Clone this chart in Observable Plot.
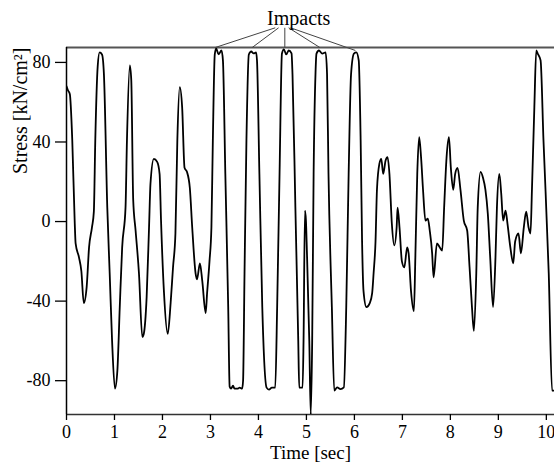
<!DOCTYPE html>
<html>
<head>
<meta charset="utf-8">
<script src="https://cdn.jsdelivr.net/npm/d3@7"></script>
<script src="https://cdn.jsdelivr.net/npm/@observablehq/plot@0.6"></script>
<style>
  html, body { margin: 0; padding: 0; background: #fff; }
  #chart { width: 554px; height: 462px; overflow: hidden; }
  #chart svg text { font-family: 'Liberation Serif', 'Times New Roman', serif; }
</style>
</head>
<body>
<div id="chart"></div>
<script>
// Time [sec]
const time = [
  0.00, 0.03, 0.07, 0.12, 0.17, 0.19, 0.26, 0.31, 0.36, 0.42, 0.47, 0.53, 0.57, 0.60, 0.65, 0.69, 0.74, 0.78, 0.85, 0.90,
  0.95, 1.01, 1.06, 1.11, 1.16, 1.23, 1.26, 1.32, 1.35, 1.39, 1.44, 1.51, 1.58, 1.61, 1.67, 1.72, 1.75, 1.82, 1.89, 1.94,
  1.97, 2.03, 2.11, 2.17, 2.22, 2.27, 2.31, 2.36, 2.41, 2.46, 2.51, 2.57, 2.62, 2.69, 2.72, 2.78, 2.83, 2.90, 2.93, 2.98,
  3.02, 3.05, 3.09, 3.12, 3.17, 3.23, 3.26, 3.31, 3.37, 3.40, 3.43, 3.47, 3.50, 3.56, 3.61, 3.66, 3.68, 3.71, 3.75, 3.80,
  3.85, 3.90, 3.95, 3.97, 4.02, 4.08, 4.17, 4.22, 4.28, 4.35, 4.39, 4.44, 4.49, 4.53, 4.58, 4.63, 4.69, 4.71, 4.77, 4.83,
  4.85, 4.92, 4.94, 4.97, 4.99, 5.01, 5.06, 5.09, 5.12, 5.15, 5.19, 5.21, 5.26, 5.33, 5.40, 5.43, 5.46, 5.53, 5.58, 5.64,
  5.71, 5.78, 5.83, 5.88, 5.93, 5.99, 6.04, 6.09, 6.13, 6.16, 6.19, 6.25, 6.32, 6.37, 6.40, 6.44, 6.47, 6.52, 6.56, 6.60,
  6.65, 6.69, 6.73, 6.78, 6.83, 6.88, 6.90, 6.94, 6.99, 7.04, 7.10, 7.13, 7.18, 7.24, 7.27, 7.31, 7.35, 7.39, 7.43, 7.48,
  7.53, 7.57, 7.62, 7.65, 7.72, 7.78, 7.83, 7.87, 7.92, 7.97, 8.01, 8.06, 8.10, 8.15, 8.21, 8.28, 8.35, 8.40, 8.45, 8.49,
  8.54, 8.57, 8.63, 8.68, 8.73, 8.78, 8.83, 8.89, 8.94, 8.97, 9.02, 9.06, 9.10, 9.15, 9.19, 9.25, 9.31, 9.35, 9.42, 9.47,
  9.53, 9.58, 9.63, 9.67, 9.70, 9.75, 9.79, 9.82, 9.88, 9.94, 10.05, 10.12, 10.17
];
// Stress [kN/cm²]
const stress = [
  68, 66, 64, 41, 0.5, -11, -18, -25, -41, -33, -13, -3, 5, 41, 78, 85, 84, 74, 7, -26,
  -60, -84, -75, -43, -13, 7, 41, 78.5, 71, 11, -4.5, -26, -58, -56.5, -38, -3, 19, 31.5, 30, 24,
  0.5, -35, -56.5, -41, -23, -6, 41, 67.6, 57.5, 27, 25, 17, -3, -26, -29, -21, -30, -46, -36, -20,
  -3, 41, 84, 87, 84, 86, 81, 24, -43, -83, -84, -82.5, -84, -84, -83.5, -84, -80, -26, 41, 84,
  85.5, 84.5, 85, 81, 24, -43, -83.5, -84.5, -83.5, -83.5, -43, 24, 84.5, 86.5, 84, 86, 84.5, 74, 7, -60,
  -83.5, -83.5, -60, 5.5, 0.5, -15, -60, -97, -60, 24, 75, 84.4, 86, 84.4, 85, 74, 24, -43, -85, -83.4,
  -84.2, -83.4, -43, 24, 74, 84.4, 85, 81, 41, -10, -35, -43, -41, -36, -26, -10, 16, 29, 31.5, 24,
  30.7, 32.4, 24, -1, -12, -3, 7, -3, -20, -23, -13, -16, -35, -45, -18, 24, 42.4, 32, 16, 0.5,
  1.5, -4.5, -16, -28, -11, -13, -14.6, 7, 32, 42.4, 27, 16, 24, 27, 16, 0.5, -4.5, -23, -43, -55,
  -26, 7, 25, 22, 16, 4, -18, -43, -18, 7, 24, 14, 0.5, 5.5, -1, -13, -21, -10, -6, -16,
  -3, 5, -3, -6, 16, 57.5, 86, 84.4, 81, 41, -26, -85, -85
];
const xTicks = [0, 1, 2, 3, 4, 5, 6, 7, 8, 9, 10];
const yTicks = [-80, -40, 0, 40, 80];
const xLabel = "Time [sec]";
const yLabel = "Stress [kN/cm²]";
// "Impacts" annotation: pointer line tips and origins (data units)
const impactTipX = [3.10, 3.87, 4.55, 5.28, 6.02];
const impactTipY = [87.5, 87.5, 87.5, 87.5, 86];
const impactFromX = [4.35, 4.42, 4.55, 4.63, 4.67];
const impactFromY = [97.4, 97.4, 97.4, 97.4, 97.4];
const impactLabel = "Impacts";
const impactLabelX = 4.84;
const impactLabelY = 99;

const xDomain = [0, 10.17];
const yDomain = [-97, 87.5];

const data = time.map((t, i) => ({t, s: stress[i]}));
const links = impactTipX.map((x, i) => ({x1: impactFromX[i], y1: impactFromY[i], x2: x, y2: impactTipY[i]}));

const serif = "'Liberation Serif', 'Times New Roman', serif";

const chart = Plot.plot({
  width: 554,
  height: 462,
  marginLeft: 66,
  marginRight: 0,
  marginTop: 47,
  marginBottom: 48,
  style: {fontFamily: serif, fontSize: "18px", color: "#000", background: "#fff", overflow: "visible"},
  x: {domain: xDomain},
  y: {domain: yDomain},
  marks: [
    Plot.ruleY([yDomain[1]], {stroke: "#555", strokeWidth: 2}),
    Plot.ruleY([yDomain[0]], {stroke: "#333", strokeWidth: 1.5}),
    Plot.ruleX([xDomain[0]], {stroke: "#000", strokeWidth: 1.5}),
    Plot.axisY({ticks: yTicks, tickSize: 11, tickPadding: 5, tickFormat: d => String(d), label: null, strokeWidth: 1.3, fontSize: 18, fontFamily: serif}),
    Plot.axisX({ticks: xTicks, tickSize: 6, tickPadding: 5, tickFormat: d => String(d), label: null, strokeWidth: 1.3, fontSize: 18, fontFamily: serif}),
    Plot.line(data, {x: "t", y: "s", stroke: "#000", strokeWidth: 1.8, curve: "monotone-x", clip: true}),
    Plot.link(links, {x1: "x1", y1: "y1", x2: "x2", y2: "y2", stroke: "#444", strokeWidth: 1}),
    Plot.text([impactLabel], {x: impactLabelX, y: impactLabelY, text: d => d, fontSize: 20, fontFamily: serif, lineAnchor: "bottom", fill: "#000"}),
    Plot.text([xLabel], {frameAnchor: "bottom", dy: 44, text: d => d, fontSize: 19, fontFamily: serif, lineAnchor: "bottom", fill: "#000"}),
    Plot.text([yLabel], {frameAnchor: "top-left", dx: -46, rotate: -90, textAnchor: "end", lineAnchor: "middle", text: d => d, fontSize: 20, fontFamily: serif, fill: "#000"})
  ]
});
document.getElementById("chart").appendChild(chart);
</script>
</body>
</html>
